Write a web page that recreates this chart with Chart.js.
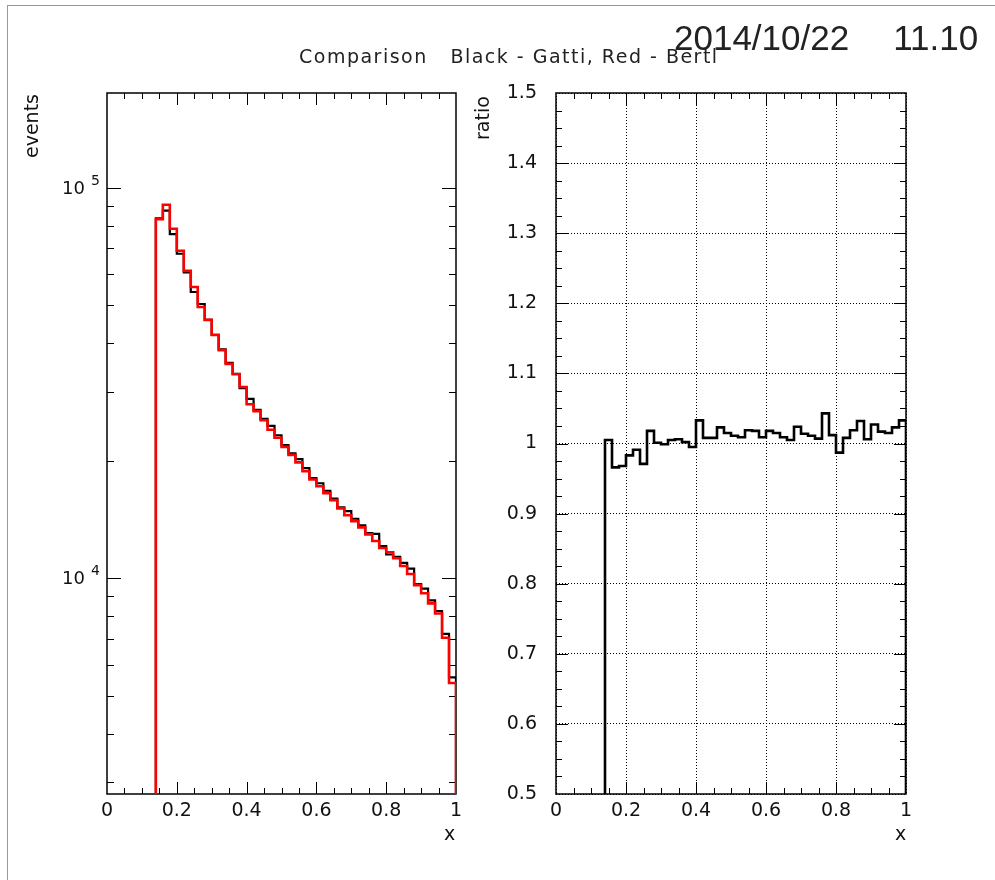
<!DOCTYPE html>
<html>
<head>
<meta charset="utf-8">
<script src="https://cdn.jsdelivr.net/npm/chart.js@4.4.0/dist/chart.umd.min.js"></script>
<style>
  body { margin: 0; background: #fff; width: 995px; height: 880px; position: relative; overflow: hidden;
         font-family: "DejaVu Sans", sans-serif; color: #111; }
  #page { position: absolute; left: 7px; top: 5px; width: 1000px; height: 900px;
          border-left: 1px solid #999; border-top: 1px solid #999; }
  canvas { position: absolute; top: 0; }
  #cLeft { left: 0; }
  #cRight { left: 495px; }
  .lbl { position: absolute; white-space: pre; line-height: 1; }
  #date { left: 674px; top: 18px; font: 35px "Liberation Sans", sans-serif; color: #222; }
  #title { left: 299px; top: 47px; font-size: 19px; letter-spacing: 1.5px; color: #222; }
  .rot { transform-origin: 0 0; transform: rotate(-90deg); font-size: 19px; }
  .xt { font-size: 19px; }
</style>
</head>
<body>
<div id="page"></div>
<canvas id="cLeft" width="495" height="880"></canvas>
<canvas id="cRight" width="500" height="880"></canvas>
<div class="lbl" id="date">2014/10/22<span style="margin-left:44px">11.10</span></div>
<div class="lbl" id="title">Comparison   Black - Gatti, Red - Bertl</div>
<div class="lbl rot" style="left:22px;top:158px">events</div>
<div class="lbl rot" style="left:473px;top:140px">ratio</div>
<div class="lbl xt" style="left:444px;top:824px">x</div>
<div class="lbl xt" style="left:895px;top:824px">x</div>

<script>
// bin lower/upper edges (0.02 wide)
const binEdges = [0.14, 0.16, 0.18, 0.20, 0.22, 0.24, 0.26, 0.28, 0.30, 0.32, 0.34,
  0.36, 0.38, 0.40, 0.42, 0.44, 0.46, 0.48, 0.50, 0.52, 0.54, 0.56, 0.58, 0.60,
  0.62, 0.64, 0.66, 0.68, 0.70, 0.72, 0.74, 0.76, 0.78, 0.80, 0.82, 0.84, 0.86,
  0.88, 0.90, 0.92, 0.94, 0.96, 0.98, 1.00];

// red - Bertl
const bertlCounts = [83100, 90500, 78600, 69000, 61300, 55700, 49500, 45900, 42000,
  38400, 35400, 33300, 30900, 27900, 26800, 25400, 24000, 22900, 21700, 20700, 19800,
  18800, 17900, 17200, 16500, 15850, 15100, 14500, 14000, 13500, 12950, 12450, 11950,
  11650, 11250, 10750, 10250, 9600, 9150, 8620, 8120, 7040, 5390];

// black - Gatti
const gattiCounts = [83500, 87400, 76100, 67800, 60700, 54100, 50400, 45900, 42000,
  38600, 35600, 33400, 30700, 28800, 27000, 25600, 24550, 23240, 21940, 20890, 20180,
  19140, 18060, 17510, 16750, 15990, 15180, 14850, 14200, 13650, 13040, 12990, 12090,
  11500, 11340, 10950, 10580, 9660, 9400, 8770, 8240, 7200, 5570];

// Gatti / Bertl
const ratioValues = [1.005, 0.966, 0.968, 0.983, 0.991, 0.971, 1.018, 1.001, 0.999,
  1.005, 1.006, 1.002, 0.995, 1.033, 1.008, 1.008, 1.023, 1.015, 1.011, 1.009, 1.019,
  1.018, 1.009, 1.018, 1.015, 1.009, 1.005, 1.024, 1.014, 1.011, 1.007, 1.043, 1.012,
  0.987, 1.008, 1.019, 1.032, 1.006, 1.027, 1.017, 1.015, 1.023, 1.033];

const eventsMin = 2800, eventsMax = 175000;
const ratioMin = 0.5, ratioMax = 1.5;
const logDecades = [4, 5];

const tickFont = { family: 'DejaVu Sans', size: 19 };

function histPoints(edges, vals, floor) {
  const pts = [{ x: edges[0], y: floor }];
  vals.forEach((v, i) => {
    pts.push({ x: edges[i], y: v }, { x: edges[i + 1], y: v });
  });
  pts.push({ x: edges[edges.length - 1], y: floor });
  return pts;
}

// x ticks: minor every 0.05, major every 0.2
const xFrameTicks = [];
for (let i = 1; i < 20; i++) xFrameTicks.push([i * 0.05, i % 4 === 0 ? 12 : 6]);

const logFrameTicks = [];
[1000, 10000].forEach(d => {
  for (let k = 2; k <= 9; k++) {
    const v = k * d;
    if (v > eventsMin && v < eventsMax) logFrameTicks.push([v, 7]);
  }
});
logDecades.forEach(p => logFrameTicks.push([Math.pow(10, p), 14]));

const ratioFrameTicks = [];
for (let i = 1; i < 40; i++) ratioFrameTicks.push([0.5 + i * 0.025, i % 4 === 0 ? 12 : 6]);

const frameTicks = {
  id: 'frameTicks',
  beforeDatasetsDraw(chart, args, o) {
    const { ctx, chartArea: a } = chart;
    const xs = chart.scales.x, ys = chart.scales.y;
    ctx.save();
    ctx.strokeStyle = '#000';
    ctx.lineWidth = 1;
    ctx.beginPath();
    o.xTicks.forEach(([v, len]) => {
      const p = Math.round(xs.getPixelForValue(v)) + 0.5;
      ctx.moveTo(p, a.bottom); ctx.lineTo(p, a.bottom - len);
      ctx.moveTo(p, a.top); ctx.lineTo(p, a.top + len);
    });
    o.yTicks.forEach(([v, len]) => {
      const p = Math.round(ys.getPixelForValue(v)) + 0.5;
      ctx.moveTo(a.left, p); ctx.lineTo(a.left + len, p);
      ctx.moveTo(a.right, p); ctx.lineTo(a.right - len, p);
    });
    ctx.stroke();
    ctx.lineWidth = 1.5;
    ctx.strokeRect(a.left, a.top, a.right - a.left, a.bottom - a.top);
    ctx.restore();
  },
  afterDraw(chart, args, o) {
    if (!o.powers) return;
    const { ctx, chartArea: a } = chart;
    const ys = chart.scales.y;
    ctx.save();
    ctx.fillStyle = '#111';
    ctx.textBaseline = 'middle';
    o.powers.forEach(p => {
      const py = ys.getPixelForValue(Math.pow(10, p));
      ctx.font = '18px "DejaVu Sans"';
      ctx.textAlign = 'right';
      ctx.fillText('10', a.left - 22, py + 1);
      ctx.font = '14px "DejaVu Sans"';
      ctx.textAlign = 'left';
      ctx.fillText(String(p), a.left - 16, py - 7);
    });
    ctx.restore();
  }
};

const fmtX = v => (Math.abs(v) < 1e-9 ? '0' : Math.abs(v - 1) < 1e-9 ? '1' : v.toFixed(1));

new Chart(document.getElementById('cLeft'), {
  type: 'line',
  data: {
    datasets: [
      { label: 'Bertl', data: histPoints(binEdges, bertlCounts, eventsMin),
        borderColor: '#ff0000', borderWidth: 2.6, order: 0 },
      { label: 'Gatti', data: histPoints(binEdges, gattiCounts, eventsMin),
        borderColor: '#000000', borderWidth: 2.2, order: 1 }
    ]
  },
  options: {
    responsive: false,
    animation: false,
    devicePixelRatio: 1,
    layout: { padding: { left: 0, top: 93, right: 39, bottom: 0 } },
    elements: { point: { radius: 0 }, line: { tension: 0, borderJoinStyle: 'miter', fill: false } },
    plugins: {
      legend: { display: false },
      tooltip: { enabled: false },
      frameTicks: { xTicks: xFrameTicks, yTicks: logFrameTicks, powers: logDecades }
    },
    scales: {
      x: {
        type: 'linear', min: 0, max: 1,
        grid: { display: false, drawTicks: false },
        border: { display: false },
        ticks: { stepSize: 0.2, padding: 6, font: tickFont, color: '#111', autoSkip: false,
                 maxRotation: 0, callback: fmtX },
        afterFit: s => { s.height = 86; }
      },
      y: {
        type: 'logarithmic', min: eventsMin, max: eventsMax,
        grid: { display: false, drawTicks: false },
        border: { display: false },
        ticks: { display: false },
        afterFit: s => { s.width = 107; }
      }
    }
  },
  plugins: [frameTicks]
});

new Chart(document.getElementById('cRight'), {
  type: 'line',
  data: {
    datasets: [
      { label: 'ratio', data: histPoints(binEdges, ratioValues, ratioMin),
        borderColor: '#000000', borderWidth: 2.6 }
    ]
  },
  options: {
    responsive: false,
    animation: false,
    devicePixelRatio: 1,
    layout: { padding: { left: 0, top: 93, right: 89, bottom: 0 } },
    elements: { point: { radius: 0 }, line: { tension: 0, borderJoinStyle: 'miter', fill: false } },
    plugins: {
      legend: { display: false },
      tooltip: { enabled: false },
      frameTicks: { xTicks: xFrameTicks, yTicks: ratioFrameTicks }
    },
    scales: {
      x: {
        type: 'linear', min: 0, max: 1,
        grid: { display: true, drawTicks: false, color: '#000', lineWidth: 1 },
        border: { display: false, dash: [1, 2] },
        ticks: { stepSize: 0.2, padding: 6, font: tickFont, color: '#111', autoSkip: false,
                 maxRotation: 0, callback: fmtX },
        afterFit: s => { s.height = 86; }
      },
      y: {
        type: 'linear', min: ratioMin, max: ratioMax,
        grid: { display: true, drawTicks: false, color: '#000', lineWidth: 1 },
        border: { display: false, dash: [1, 2] },
        ticks: { stepSize: 0.1, padding: 19, font: tickFont, color: '#111', autoSkip: false,
                 callback: v => (Math.abs(v - 1) < 1e-9 ? '1' : v.toFixed(1)) },
        afterFit: s => { s.width = 61; }
      }
    }
  },
  plugins: [frameTicks]
});
</script>
</body>
</html>
